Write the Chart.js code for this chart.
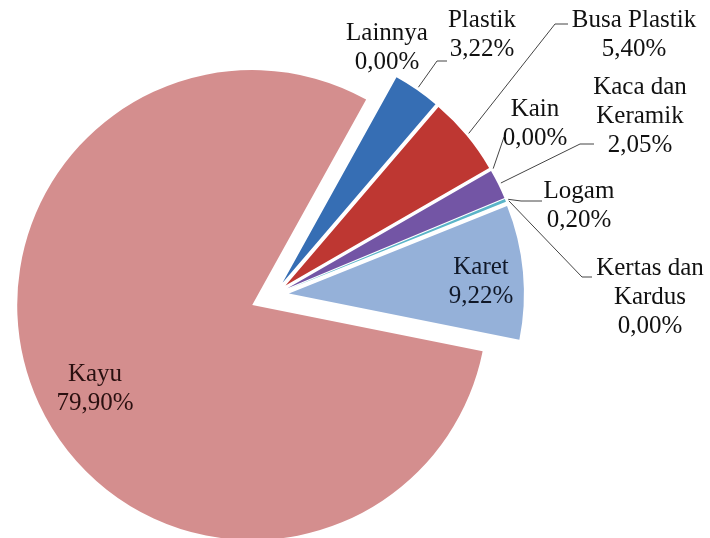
<!DOCTYPE html>
<html>
<head>
<meta charset="utf-8">
<title>Komposisi sampah</title>
<script src="https://cdn.jsdelivr.net/npm/chart.js@4"></script>
<style>
  html, body { margin: 0; padding: 0; background: #fff; }
  #wrap { width: 710px; height: 538px; }
</style>
</head>
<body>
<div id="wrap"><canvas id="pieChart" width="710" height="538"></canvas></div>
<script>
// Data (persen), urutan searah jarum jam mulai dari atas
const categories = ['Lainnya', 'Plastik', 'Busa Plastik', 'Kain', 'Kaca dan Keramik', 'Logam', 'Kertas dan Kardus', 'Karet', 'Kayu'];
const values = [0.00, 3.22, 5.40, 0.00, 2.05, 0.20, 0.00, 9.22, 79.90];
const colors = ['#8AA64B', '#366EB4', '#BE3732', '#E0A040', '#7355A5', '#5AB4C8', '#B0B0B0', '#95B1D9', '#D48E8E'];

// seberapa jauh tiap irisan "ditarik keluar"
const explode = [15, 15, 15, 15, 15, 15, 15, 15, 24];

// posisi label (x tengah, y baris pertama) dan garis penunjuk
const labelPos = [[387, 33], [482, 20], [634, 20], [535, 109], [640, 87], [579, 191], [650, 268], [481, 267], [95, 374]];
const leaders = [null, [[447, 61], [437, 61]], [[568, 24], [555, 24]], [[504, 137]], [[594, 144], [580, 144]], [[542, 201], [521, 201]], [[592, 277], [582, 277]], null, null];

const FONT = '25px "Liberation Serif", "Times New Roman", serif';

function shiftArcs(chart, sign) {
  const arcs = chart.getDatasetMeta(0).data;
  arcs.forEach((arc, i) => {
    const mid = (arc.startAngle + arc.endAngle) / 2;
    arc.x += sign * Math.cos(mid) * explode[i];
    arc.y += sign * Math.sin(mid) * explode[i];
  });
}

const explodePlugin = {
  id: 'explode',
  beforeDatasetsDraw(chart) { shiftArcs(chart, 1); },
  afterDatasetsDraw(chart) { shiftArcs(chart, -1); }
};

const labelPlugin = {
  id: 'pieLabels',
  afterDraw(chart) {
    const ctx = chart.ctx;
    const arcs = chart.getDatasetMeta(0).data;
    ctx.save();

    // garis penunjuk
    ctx.strokeStyle = '#444';
    ctx.lineWidth = 1;
    arcs.forEach((arc, i) => {
      if (!leaders[i]) return;
      const mid = (arc.startAngle + arc.endAngle) / 2;
      const r = explode[i] + arc.outerRadius + 3;
      const ex = arc.x + Math.cos(mid) * r;
      const ey = arc.y + Math.sin(mid) * r;
      ctx.beginPath();
      ctx.moveTo(leaders[i][0][0], leaders[i][0][1]);
      leaders[i].slice(1).forEach(p => ctx.lineTo(p[0], p[1]));
      ctx.lineTo(ex, ey);
      ctx.stroke();
    });

    // teks
    ctx.font = FONT;
    ctx.textAlign = 'center';
    ctx.textBaseline = 'middle';
    categories.forEach((name, i) => {
      const lines = name.replace(' dan ', ' dan\n').split('\n');
      lines.push(values[i].toFixed(2).replace('.', ',') + '%');
      ctx.fillStyle = i === 8 ? '#2a1010' : (i === 7 ? '#101828' : '#111');
      lines.forEach((t, k) => {
        ctx.fillText(t, labelPos[i][0], labelPos[i][1] + k * 29);
      });
    });
    ctx.restore();
  }
};

function drawChart() {
  const ctx = document.getElementById('pieChart').getContext('2d');
  new Chart(ctx, {
    type: 'pie',
    data: {
      labels: categories,
      datasets: [{
        data: values,
        backgroundColor: colors,
        borderWidth: 0,
        rotation: 29,
        radius: 235,
        clip: false
      }]
    },
    options: {
      responsive: false,
      animation: false,
      rotation: 29,
      radius: 235,
      layout: { padding: { left: 0, right: 162, top: 52, bottom: 0 } },
      plugins: {
        legend: { display: false },
        tooltip: { enabled: false }
      }
    },
    plugins: [explodePlugin, labelPlugin]
  });
}

document.fonts.load(FONT).then(drawChart, drawChart);
</script>
</body>
</html>
